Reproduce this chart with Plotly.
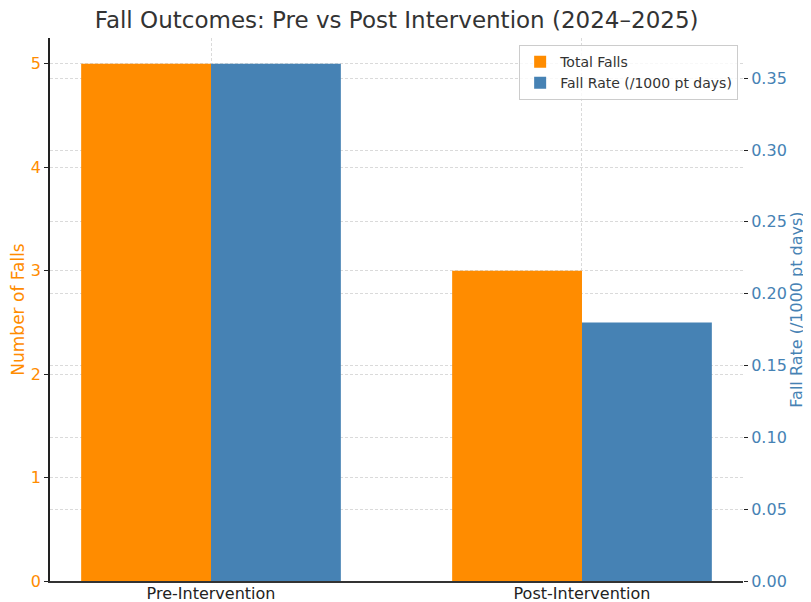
import plotly.graph_objects as go

categories = ["Pre-Intervention", "Post-Intervention"]
total_falls = [5, 3]
fall_rate = [0.36, 0.18]
left_ticks = [0, 1, 2, 3, 4, 5]
right_ticks = [0.00, 0.05, 0.10, 0.15, 0.20, 0.25, 0.30, 0.35]

ORANGE = "#FF8C00"
BLUE = "#4682B4"
FONT = "DejaVu Sans"

fig = go.Figure()
fig.add_trace(go.Bar(x=categories, y=total_falls, name="Total Falls", marker_color=ORANGE,
                     marker_line_width=0, offsetgroup="a", yaxis="y"))
fig.add_trace(go.Bar(x=categories, y=fall_rate, name="Fall Rate (/1000 pt days)", marker_color=BLUE,
                     marker_line_width=0, offsetgroup="b", yaxis="y2"))

grid = dict(showgrid=True, gridcolor="#dadada", griddash="3px,2px", gridwidth=1)

fig.update_layout(
    width=803, height=594,
    margin=dict(l=42, r=68, t=30, b=21),
    paper_bgcolor="white", plot_bgcolor="white",
    font=dict(family=FONT, color="#222"),
    title=dict(text="Fall Outcomes: Pre vs Post Intervention (2024–2025)", x=0.484, xanchor="center",
               y=0.98, yanchor="middle", font=dict(size=23, color="#333", family=FONT)),
    barmode="group", bargap=0.3, bargroupgap=0,
    showlegend=True,
    legend=dict(x=0.993, y=0.987, xanchor="right", yanchor="top", bgcolor="rgba(255,255,255,0.8)",
                bordercolor="#cccccc", borderwidth=1, font=dict(size=14, color="#333"),
                tracegroupgap=0, itemsizing="constant"),
    xaxis=dict(range=[-0.434, 1.434], tickfont=dict(size=16, color="#222"), ticks="",
               ticklabelstandoff=-3,
               showline=True, linecolor="#333", linewidth=1.5, **grid, automargin=False),
    yaxis=dict(range=[0, 5.25], tickvals=left_ticks, tickfont=dict(size=16, color=ORANGE),
               ticks="outside", ticklen=4, tickcolor="#222",
               showline=True, linecolor="#222", linewidth=1.5,
               title=dict(text="Number of Falls", font=dict(size=17, color=ORANGE), standoff=10),
               **grid, zeroline=False, automargin=False),
    yaxis2=dict(range=[0, 0.378], tickvals=right_ticks, tickformat=".2f", overlaying="y", side="right",
                tickfont=dict(size=16, color=BLUE), ticks="outside", ticklen=4, tickcolor="#222",
                showline=False,
                title=dict(text="Fall Rate (/1000 pt days)", font=dict(size=16, color=BLUE), standoff=4),
                **grid, zeroline=False, automargin=False),
)

fig.write_html("out.html")
